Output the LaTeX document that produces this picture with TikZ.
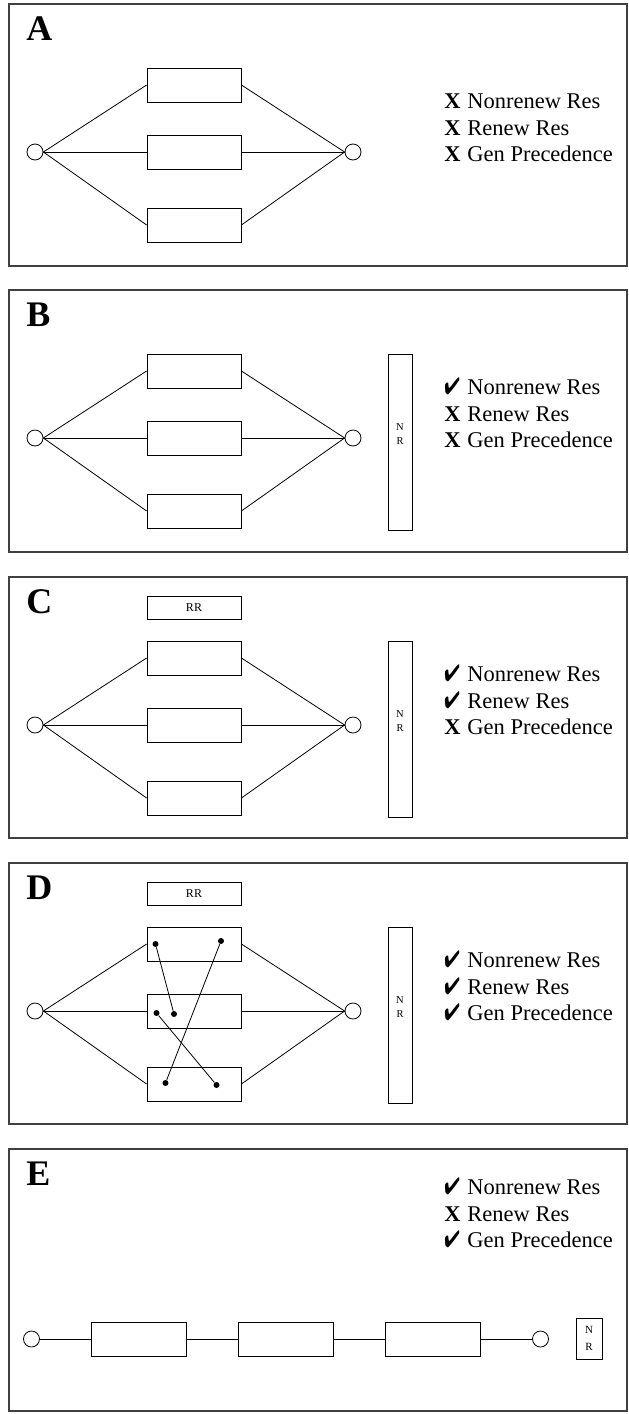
\documentclass[tikz,border=0pt]{standalone}
\usepackage{fontspec}
\setmainfont{Liberation Serif}
\usepackage{pifont}
\usetikzlibrary{positioning}

\newcommand{\cmark}{\makebox[23pt][l]{\scalebox{0.82}[1.05]{\ding{52}}}}
\newcommand{\xmark}{\makebox[23pt][l]{\textbf{X}}}

\begin{document}
\begin{tikzpicture}
        [x=1pt, y=-1pt, line width=0.8pt,
        panel/.style={draw=black!75, line width=1.2pt},
        tag/.style={anchor=base west, inner sep=0pt, font=\bfseries\fontsize{36}{36}\selectfont},
        task/.style={rectangle, draw, minimum width=94pt, minimum height=34pt, inner sep=0pt},
        endpt/.style={circle, draw, minimum size=16pt, inner sep=0pt},
        res/.style={rectangle, draw, inner sep=0pt},
        restext/.style={inner sep=0pt, align=center, font=\fontsize{10.5}{14.5}\selectfont},
        crit/.style={anchor=base west, inner sep=0pt, font=\fontsize{22.5}{26}\selectfont},
        dot/.style={circle, fill, inner sep=0pt, minimum size=6pt}]
        \useasboundingbox (0,0) rectangle (629,1414);

        % A: three parallel tasks, no resources
        \begin{scope}[shift={(0,4)}]
        \draw[panel] (9,0) rectangle (627,262);
        \node[tag]   (atag) at (26,36)   {A};
        \node[endpt] (al)   at (35,148)  {};
        \node[endpt] (ar)   at (353,148) {};
        \node[task]  (a1)   at (194,81)  {};
        \node[task]  (a2)   at (194,148) {};
        \node[task]  (a3)   at (194,221) {};
        \node[crit]  (ac1)  at (444,104) {\xmark Nonrenew Res};
        \node[crit]  (ac2)  at (444,131) {\xmark Renew Res};
        \node[crit]  (ac3)  at (444,157) {\xmark Gen Precedence};
        \path (al.east) edge (a1.west) edge (a2.west) edge (a3.west)
              (ar.west) edge (a1.east) edge (a2.east) edge (a3.east);
        \end{scope}

        % B: nonrenewable resource
        \begin{scope}[shift={(0,290)}]
        \draw[panel] (9,0) rectangle (627,262);
        \node[tag]   (btag) at (26,36)   {B};
        \node[endpt] (bl)   at (35,148)  {};
        \node[endpt] (br)   at (353,148) {};
        \node[task]  (b1)   at (194,81)  {};
        \node[task]  (b2)   at (194,148) {};
        \node[task]  (b3)   at (194,221) {};
        \node[res, minimum width=24pt, minimum height=176pt] (bnr) at (400,152) {};
        \node[restext] (bnrt) at (400,144) {N\\R};
        \node[crit]  (bc1)  at (444,104) {\cmark Nonrenew Res};
        \node[crit]  (bc2)  at (444,131) {\xmark Renew Res};
        \node[crit]  (bc3)  at (444,157) {\xmark Gen Precedence};
        \path (bl.east) edge (b1.west) edge (b2.west) edge (b3.west)
              (br.west) edge (b1.east) edge (b2.east) edge (b3.east);
        \end{scope}

        % C: renewable resource added
        \begin{scope}[shift={(0,577)}]
        \draw[panel] (9,0) rectangle (627,261);
        \node[tag]   (ctag) at (26,36)   {C};
        \node[endpt] (cl)   at (35,148)  {};
        \node[endpt] (cr)   at (353,148) {};
        \node[task]  (c1)   at (194,81)  {};
        \node[task]  (c2)   at (194,148) {};
        \node[task]  (c3)   at (194,221) {};
        \node[res, minimum width=94pt, minimum height=22.5pt, font=\fontsize{12}{12}\selectfont]
                     (crr)  [above=21pt of c1] {RR};
        \node[res, minimum width=24pt, minimum height=176pt] (cnr) at (400,152) {};
        \node[restext] (cnrt) at (400,144) {N\\R};
        \node[crit]  (cc1)  at (444,104) {\cmark Nonrenew Res};
        \node[crit]  (cc2)  at (444,131) {\cmark Renew Res};
        \node[crit]  (cc3)  at (444,157) {\xmark Gen Precedence};
        \path (cl.east) edge (c1.west) edge (c2.west) edge (c3.west)
              (cr.west) edge (c1.east) edge (c2.east) edge (c3.east);
        \end{scope}

        % D: general precedence between activities
        \begin{scope}[shift={(0,863)}]
        \draw[panel] (9,0) rectangle (627,261);
        \node[tag]   (dtag) at (26,36)   {D};
        \node[endpt] (dl)   at (35,148)  {};
        \node[endpt] (dr)   at (353,148) {};
        \node[task]  (d1)   at (194,81)  {};
        \node[task]  (d2)   at (194,148) {};
        \node[task]  (d3)   at (194,221) {};
        \node[res, minimum width=94pt, minimum height=22.5pt, font=\fontsize{12}{12}\selectfont]
                     (drr)  [above=21pt of d1] {RR};
        \node[res, minimum width=24pt, minimum height=176pt] (dnr) at (400,152) {};
        \node[restext] (dnrt) at (400,144) {N\\R};
        \node[crit]  (dc1)  at (444,104) {\cmark Nonrenew Res};
        \node[crit]  (dc2)  at (444,131) {\cmark Renew Res};
        \node[crit]  (dc3)  at (444,157) {\cmark Gen Precedence};
        \node[dot]   (p1)   at (155.5,81)  {};
        \node[dot]   (p2)   at (221,78)    {};
        \node[dot]   (p3)   at (174,151)   {};
        \node[dot]   (p4)   at (156.5,150) {};
        \node[dot]   (p5)   at (165.5,220) {};
        \node[dot]   (p6)   at (216.5,222) {};
        \path (dl.east) edge (d1.west) edge (d2.west) edge (d3.west)
              (dr.west) edge (d1.east) edge (d2.east) edge (d3.east)
              (p1) edge (p3)
              (p2) edge (p5)
              (p4) edge (p6);
        \end{scope}

        % E: serial chain
        \begin{scope}[shift={(0,1149)}]
        \draw[panel] (9,0) rectangle (627,262);
        \node[tag]   (etag) at (26,36)   {E};
        \node[crit]  (ec1)  at (444,45)  {\cmark Nonrenew Res};
        \node[crit]  (ec2)  at (444,72)  {\xmark Renew Res};
        \node[crit]  (ec3)  at (444,98)  {\cmark Gen Precedence};
        \node[endpt] (el)   at (31.5,190)  {};
        \node[task, minimum width=95pt] (e1) at (139,190) {};
        \node[task, minimum width=95pt] (e2) at (286,190) {};
        \node[task, minimum width=95pt] (e3) at (433,190) {};
        \node[endpt] (er)   at (540.5,190) {};
        \node[res, minimum width=26pt, minimum height=41pt, align=center, font=\fontsize{11}{17}\selectfont]
                     (enr)  at (589,189.5) {N\\R};
        \path (el) edge (e1)
              (e1) edge (e2)
              (e2) edge (e3)
              (e3) edge (er);
        \end{scope}
\end{tikzpicture}
\end{document}
